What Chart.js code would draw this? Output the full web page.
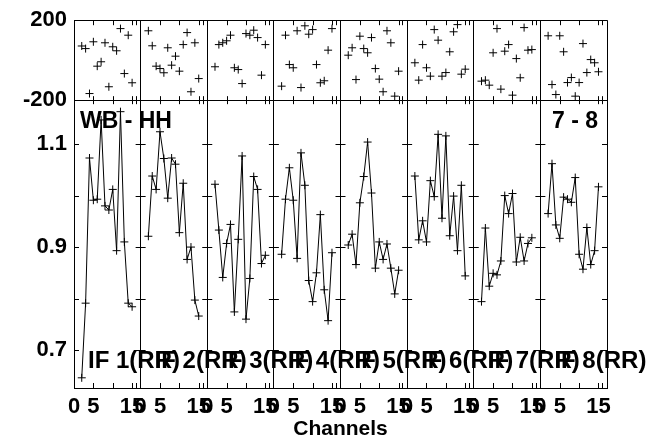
<!DOCTYPE html>
<html>
<head>
<meta charset="utf-8">
<script src="https://cdn.jsdelivr.net/npm/chart.js@4/dist/chart.umd.min.js"></script>
<style>
  html, body { margin: 0; padding: 0; background: #fff; }
  #wrap { width: 647px; height: 442px; }
</style>
</head>
<body>
<div id="wrap"><canvas id="plot" width="647" height="442"></canvas></div>
<script>
// channels that are plotted in every IF box
const channels = [2, 3, 4, 5, 6, 7, 8, 9, 10, 11, 12, 13, 14, 15];
const ifLabels = ["IF 1(RR)", "IF 2(RR)", "IF 3(RR)", "IF 4(RR)", "IF 5(RR)", "IF 6(RR)", "IF 7(RR)", "IF 8(RR)"];

// amplitude per channel
const amp1 = [0.646, 0.791, 1.073, 0.991, 0.993, 1.147, 0.980, 0.972, 1.012, 0.893, 1.163, 0.910, 0.791, 0.784];
const amp2 = [0.921, 1.038, 1.012, 1.124, 1.072, 0.995, 1.073, 1.061, 0.928, 1.024, 0.876, 0.900, 0.797, 0.766];
const amp3 = [1.022, 0.933, 0.841, 0.907, 0.944, 0.774, 0.915, 1.077, 0.760, 0.839, 1.037, 1.012, 0.868, 0.884];
const amp4 = [0.886, 0.993, 1.054, 0.991, 0.878, 1.083, 1.020, 0.835, 0.794, 0.850, 0.963, 0.817, 0.757, 0.889];
const amp5 = [0.904, 0.925, 0.866, 0.986, 1.037, 1.104, 1.005, 0.859, 0.910, 0.876, 0.906, 0.859, 0.809, 0.855];
const amp6 = [1.038, 0.914, 0.951, 0.910, 1.029, 0.998, 1.119, 0.956, 1.116, 0.922, 0.999, 0.893, 1.020, 0.844];
const amp7 = [0.794, 0.937, 0.824, 0.849, 0.846, 0.873, 1.000, 0.965, 1.004, 0.871, 0.919, 0.873, 0.907, 0.918];
const amp8 = [0.965, 1.062, 0.943, 0.917, 0.997, 0.993, 0.987, 1.035, 0.886, 0.857, 0.938, 0.866, 0.893, 1.017];

// phase per channel (degrees)
const phase1 = [71, 58, -167, 92, -30, -8, 87, -133, 67, 47, 158, -67, 125, -113];
const phase2 = [147, 72, -30, -42, -63, 62, -25, 20, -55, 78, 138, -158, 87, -92];
const phase3 = [-33, 78, 87, 97, 125, -38, -47, -117, 133, 125, 150, 113, -75, 78];
const phase4 = [-130, 125, -22, -38, 147, -137, 172, 130, 153, -22, -113, -103, 50, 158];
const phase5 = [25, 62, -97, 120, 58, 37, 113, -42, -95, -158, 147, 87, -180, -55];
const phase6 = [-13, -100, 78, -38, -80, 153, 100, -80, -62, 42, 142, 178, -70, -45];
const phase7 = [-105, -100, -125, 37, 158, -145, 45, 78, -175, 8, -88, 163, 50, 53];
const phase8 = [122, -122, -172, 122, 42, -112, -87, -180, -112, 83, -62, 3, -13, -58];

const ampByIF = [amp1, amp2, amp3, amp4, amp5, amp6, amp7, amp8];
const phaseByIF = [phase1, phase2, phase3, phase4, phase5, phase6, phase7, phase8];

// axis ticks
const chanTicks = [0, 5, 10, 15];
const chanLabels = {0: "0", 5: "5", 15: "15"};
const ampTicks = [0.7, 0.8, 0.9, 1.0, 1.1];
const ampLabelled = [0.7, 0.9, 1.1];
const phaseTicks = [-200, 0, 200];

const PANEL = 17.2;          // channel span of one IF box
const NIF = ampByIF.length;
const FONT = "'Liberation Sans', Arial, Helvetica, sans-serif";

function isBoundary(v) {
        return Math.abs(v / PANEL - Math.round(v / PANEL)) < 1e-6;
}

let datasets = [];
for (let i = 0; i < NIF; i++) {
        datasets.push({
                label: ifLabels[i] + " amp",
                yAxisID: 'ya',
                showLine: true,
                data: channels.map((c, k) => ({x: i * PANEL + c, y: ampByIF[i][k]})),
                borderColor: '#000',
                borderWidth: 1,
                pointStyle: 'cross',
                pointRadius: 4,
                pointBorderWidth: 1,
                pointBorderColor: '#000',
                tension: 0
        });
        datasets.push({
                label: ifLabels[i] + " phase",
                yAxisID: 'yp',
                showLine: false,
                data: channels.map((c, k) => ({x: i * PANEL + c, y: phaseByIF[i][k]})),
                pointStyle: 'cross',
                pointRadius: 4,
                pointBorderWidth: 1,
                pointBorderColor: '#000'
        });
}

// inward tick marks and the text inside the frame
const decorations = {
        id: 'decorations',
        afterDraw(chart) {
                const ctx = chart.ctx;
                const xs = chart.scales.x, ya = chart.scales.ya, yp = chart.scales.yp;
                ctx.save();
                ctx.strokeStyle = '#000';
                ctx.lineWidth = 1;
                ctx.beginPath();
                for (let i = 0; i < NIF; i++) {
                        for (const t of [5, 10, 15, 16]) {
                                const x = Math.round(xs.getPixelForValue(i * PANEL + t)) + 0.5;
                                ctx.moveTo(x, yp.top); ctx.lineTo(x, yp.top + 5);
                                ctx.moveTo(x, yp.bottom - 4); ctx.lineTo(x, yp.bottom + 4);
                                ctx.moveTo(x, ya.bottom); ctx.lineTo(x, ya.bottom - 5);
                        }
                }
                for (let i = 0; i <= NIF; i++) {
                        const x = xs.getPixelForValue(i * PANEL);
                        const x0 = i === 0 ? x : x - 5;
                        const x1 = i === NIF ? x : x + 5;
                        for (const v of ampTicks) {
                                const y = Math.round(ya.getPixelForValue(v)) + 0.5;
                                ctx.moveTo(x0, y); ctx.lineTo(x1, y);
                        }
                }
                ctx.stroke();

                ctx.fillStyle = '#000';
                ctx.textBaseline = 'alphabetic';
                ctx.font = "bold 23px " + FONT;
                ctx.textAlign = 'left';
                ctx.fillText("WB - HH", 80, 128);
                ctx.textAlign = 'right';
                ctx.fillText("7 - 8", 598, 128);
                ctx.textAlign = 'left';
                ctx.font = "bold 24px " + FONT;
                const step = (xs.right - xs.left) / NIF;
                for (let i = 0; i < NIF; i++) {
                        ctx.fillText(ifLabels[i], 88 + i * step, 368);
                }
                ctx.restore();
        }
};

const config = {
        type: 'scatter',
        data: {datasets: datasets},
        options: {
                responsive: false,
                animation: false,
                layout: {padding: {left: 0, right: 40, top: 20, bottom: 0}},
                plugins: {legend: {display: false}, tooltip: {enabled: false}},
                scales: {
                        x: {
                                type: 'linear',
                                min: 0,
                                max: NIF * PANEL,
                                afterBuildTicks: function(scale) {
                                        let t = [];
                                        for (let i = 0; i < NIF; i++) {
                                                for (const c of chanTicks) t.push({value: i * PANEL + c});
                                        }
                                        t.push({value: NIF * PANEL});
                                        scale.ticks = t;
                                },
                                afterFit: function(scale) { scale.height = 54; },
                                ticks: {
                                        autoSkip: false,
                                        maxRotation: 0,
                                        padding: 6,
                                        color: '#000',
                                        font: {family: FONT, size: 22, weight: 'bold'},
                                        callback: function(value) {
                                                if (value >= NIF * PANEL - 1e-6) return '';
                                                const local = Math.round(value - Math.floor(value / PANEL + 1e-6) * PANEL);
                                                return chanLabels[local] || '';
                                        }
                                },
                                grid: {
                                        drawTicks: false,
                                        lineWidth: 1,
                                        color: function(c) { return isBoundary(c.tick.value) ? '#000' : 'rgba(0,0,0,0)'; }
                                },
                                border: {display: true, color: '#000', width: 1},
                                title: {
                                        display: true,
                                        text: 'Channels',
                                        color: '#000',
                                        padding: {top: 0, bottom: 0},
                                        font: {family: FONT, size: 21, weight: 'bold'}
                                }
                        },
                        ya: {
                                type: 'linear',
                                position: 'left',
                                stack: 'panels',
                                stackWeight: 288,
                                min: 0.6262,
                                max: 1.1854,
                                afterBuildTicks: function(scale) {
                                        scale.ticks = ampTicks.map(v => ({value: v}));
                                },
                                afterFit: function(scale) { scale.width = 74; },
                                ticks: {
                                        padding: 7,
                                        color: '#000',
                                        font: {family: FONT, size: 22, weight: 'bold'},
                                        callback: function(value) {
                                                return ampLabelled.some(v => Math.abs(v - value) < 1e-6) ? value.toFixed(1) : '';
                                        }
                                },
                                grid: {display: false, drawTicks: false},
                                border: {display: true, color: '#000', width: 1}
                        },
                        yp: {
                                type: 'linear',
                                position: 'left',
                                stack: 'panels',
                                stackWeight: 80,
                                min: -200,
                                max: 200,
                                afterBuildTicks: function(scale) {
                                        scale.ticks = phaseTicks.map(v => ({value: v}));
                                },
                                afterFit: function(scale) { scale.width = 74; },
                                ticks: {
                                        padding: 7,
                                        color: '#000',
                                        font: {family: FONT, size: 22, weight: 'bold'},
                                        callback: function(value) { return value === 0 ? '' : String(value); }
                                },
                                grid: {drawTicks: false, color: '#000', lineWidth: 1},
                                border: {display: true, color: '#000', width: 1}
                        }
                }
        },
        plugins: [decorations]
};

const myChart = new Chart(document.getElementById('plot'), config);
</script>
</body>
</html>
